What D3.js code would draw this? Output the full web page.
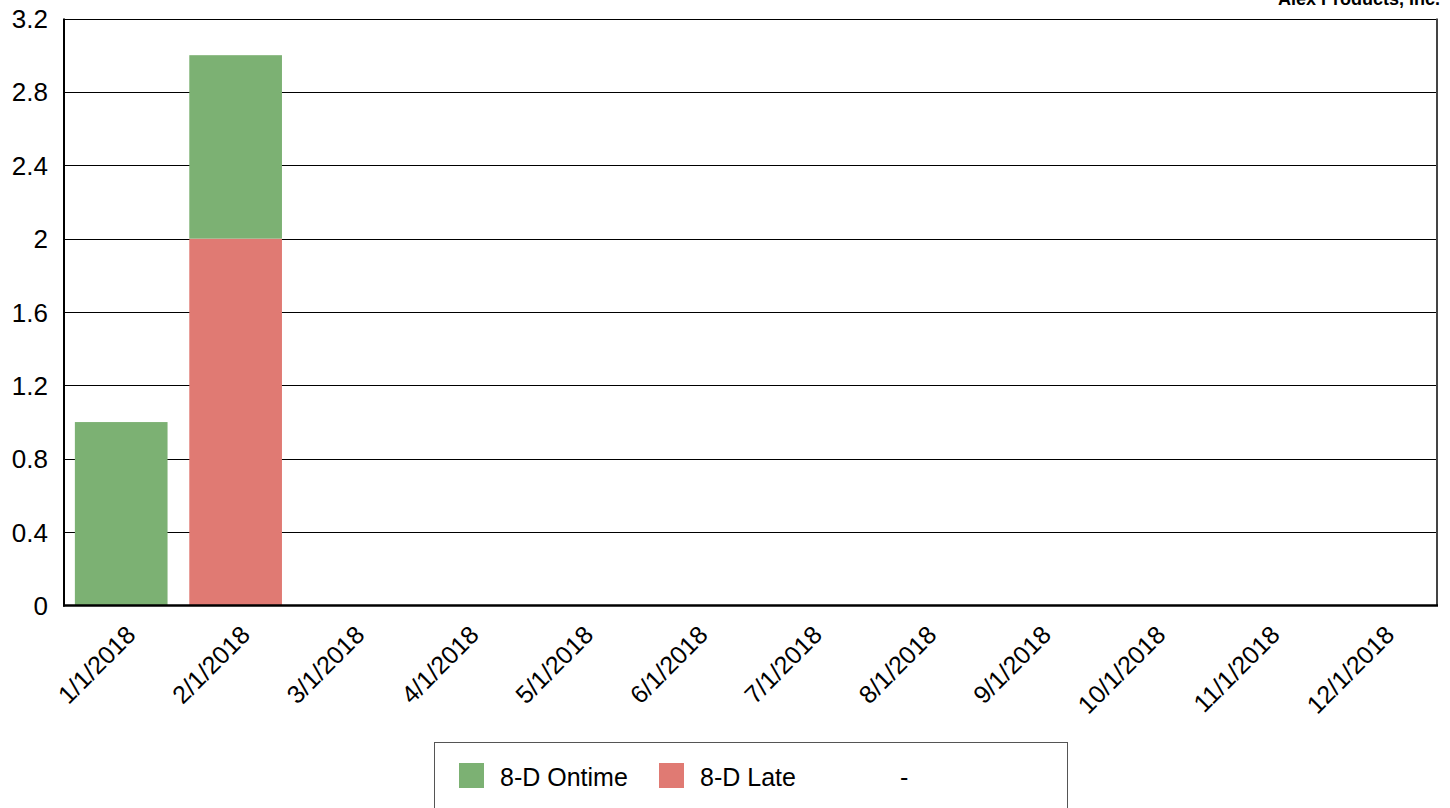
<!DOCTYPE html>
<html>
<head>
<meta charset="utf-8">
<script src="https://cdn.jsdelivr.net/npm/d3@7"></script>
<style>
  body { margin: 0; background: #fff; }
  svg { font-family: "Liberation Sans", Arial, sans-serif; }
</style>
</head>
<body>
<svg width="1450" height="808"></svg>
<script>
const months = ["1/1/2018","2/1/2018","3/1/2018","4/1/2018","5/1/2018","6/1/2018",
                "7/1/2018","8/1/2018","9/1/2018","10/1/2018","11/1/2018","12/1/2018"];
const ontime = [1, 1, 0, 0, 0, 0, 0, 0, 0, 0, 0, 0];
const late   = [0, 2, 0, 0, 0, 0, 0, 0, 0, 0, 0, 0];
const yTicks = [0, 0.4, 0.8, 1.2, 1.6, 2, 2.4, 2.8, 3.2];
const seriesNames = ["8-D Ontime", "8-D Late"];
const colors = {"8-D Ontime": "#7cb173", "8-D Late": "#e07a73"};

const svg = d3.select("svg");
const plotL = 64, plotR = 1437, plotT = 18.5, plotB = 605.5;

const x = d3.scaleBand().domain(months).range([plotL, plotR]).paddingInner(0.19).paddingOuter(0.095);
const y = d3.scaleLinear().domain([0, 3.2]).range([plotB, plotT]);

// title
svg.append("text")
    .attr("x", 1440).attr("y", 5)
    .attr("text-anchor", "end")
    .attr("font-weight", "bold")
    .attr("font-size", 18)
    .text("Alex Products, Inc.");

// grid
svg.append("g").selectAll("line")
    .data(yTicks.filter(d => d > 0))
    .enter().append("line")
    .attr("x1", plotL).attr("x2", plotR)
    .attr("y1", d => Math.round(y(d)) + 0.5).attr("y2", d => Math.round(y(d)) + 0.5)
    .attr("stroke", "#000").attr("stroke-width", 1);

// stacked bars (late at bottom)
const rows = months.map((m, i) => ({month: m, "8-D Late": late[i], "8-D Ontime": ontime[i]}));
const stack = d3.stack().keys(["8-D Late", "8-D Ontime"])(rows);

svg.append("g").selectAll("g")
    .data(stack)
    .enter().append("g")
    .attr("fill", d => colors[d.key])
    .selectAll("rect")
    .data(d => d.filter(v => v[1] - v[0] > 0))
    .enter().append("rect")
    .attr("x", d => x(d.data.month))
    .attr("width", x.bandwidth())
    .attr("y", d => y(d[1]))
    .attr("height", d => y(d[0]) - y(d[1]));

// right border
svg.append("line")
    .attr("x1", plotR).attr("x2", plotR).attr("y1", plotT).attr("y2", plotB)
    .attr("stroke", "#444").attr("stroke-width", 2);

// axes
svg.append("line")
    .attr("x1", plotL).attr("x2", plotL).attr("y1", plotT).attr("y2", plotB + 1)
    .attr("stroke", "#000").attr("stroke-width", 2);
svg.append("line")
    .attr("x1", plotL - 1).attr("x2", plotR + 1).attr("y1", plotB).attr("y2", plotB)
    .attr("stroke", "#000").attr("stroke-width", 2.5);

// y labels
svg.append("g").selectAll("text")
    .data(yTicks)
    .enter().append("text")
    .attr("x", 48)
    .attr("y", d => y(d) + 9.5)
    .attr("text-anchor", "end")
    .attr("font-size", 26)
    .text(d => d);

// x labels
svg.append("g").selectAll("text")
    .data(months)
    .enter().append("text")
    .attr("transform", d => `translate(${x(d) + x.bandwidth() / 2 + 16},${plotB + 31}) rotate(-45)`)
    .attr("text-anchor", "end")
    .attr("font-size", 25)
    .text(d => d);

// legend
const lg = svg.append("g");
lg.append("rect")
    .attr("x", 434.5).attr("y", 742.5).attr("width", 633).attr("height", 80)
    .attr("fill", "#fff").attr("stroke", "#555").attr("stroke-width", 1);

const legendX = [459, 659];
seriesNames.forEach((s, i) => {
    lg.append("rect")
        .attr("x", legendX[i]).attr("y", 763)
        .attr("width", 25).attr("height", 25)
        .attr("fill", colors[s]);
    lg.append("text")
        .attr("x", legendX[i] + 41).attr("y", 786)
        .attr("font-size", 25)
        .text(s);
});
lg.append("text")
    .attr("x", 900).attr("y", 786)
    .attr("font-size", 25)
    .text("-");
</script>
</body>
</html>
